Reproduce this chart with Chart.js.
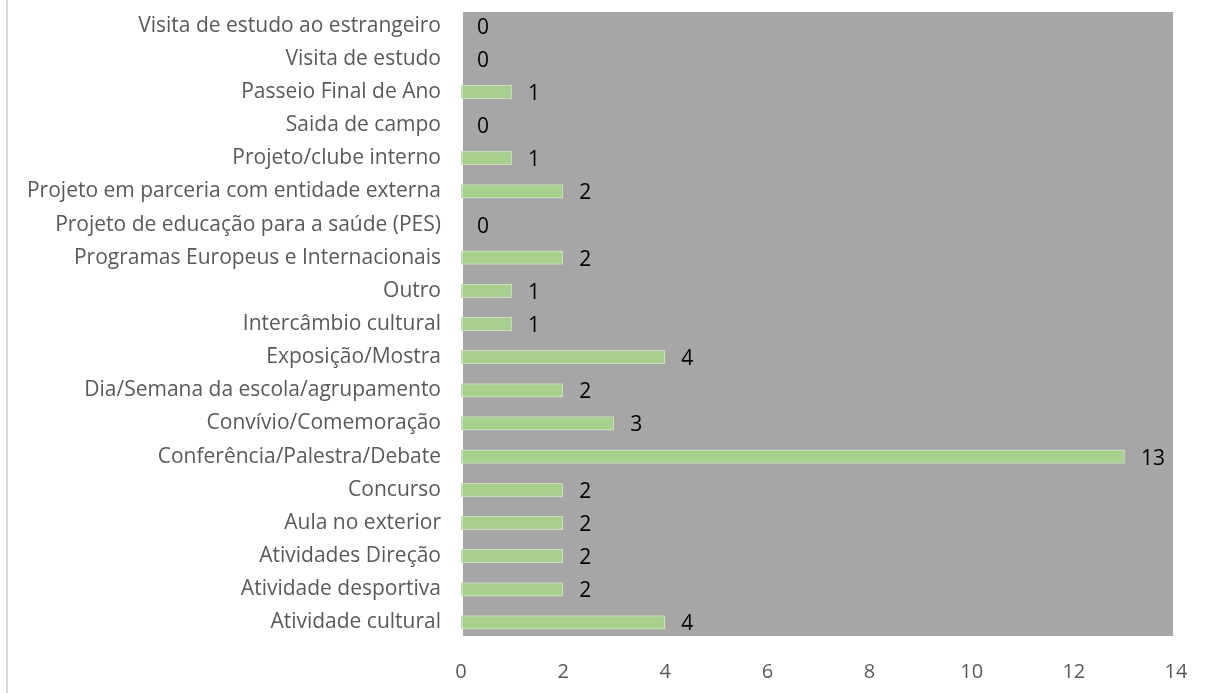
<!DOCTYPE html>
<html>
<head>
<meta charset="utf-8">
<script src="https://cdn.jsdelivr.net/npm/chart.js@4"></script>
<style>
  html, body { margin: 0; padding: 0; background: #fff; }
  #wrap { width: 1206px; height: 693px; position: relative; }
</style>
</head>
<body>
<div id="wrap"><canvas id="chart"></canvas></div>
<script>
const categories = [
  "Visita de estudo ao estrangeiro",
  "Visita de estudo",
  "Passeio Final de Ano",
  "Saida de campo",
  "Projeto/clube interno",
  "Projeto em parceria com entidade externa",
  "Projeto de educação para a saúde (PES)",
  "Programas Europeus e Internacionais",
  "Outro",
  "Intercâmbio cultural",
  "Exposição/Mostra",
  "Dia/Semana da escola/agrupamento",
  "Convívio/Comemoração",
  "Conferência/Palestra/Debate",
  "Concurso",
  "Aula no exterior",
  "Atividades Direção",
  "Atividade desportiva",
  "Atividade cultural",
];

const counts = [0, 0, 1, 0, 1, 2, 0, 2, 1, 1, 4, 2, 3, 13, 2, 2, 2, 2, 4];

const xTicks = [0, 2, 4, 6, 8, 10, 12, 14];

const FONT = "'Open Sans', sans-serif";

// gray plot area + the thin frame line on the left
const backdrop = {
  id: "backdrop",
  beforeDraw(chart) {
    const { ctx, chartArea } = chart;
    ctx.save();
    ctx.fillStyle = "#a6a6a6";
    ctx.fillRect(chartArea.left + 2, chartArea.top + 3, chartArea.right - chartArea.left - 5, chartArea.bottom - chartArea.top - 6);
    ctx.fillStyle = "#d9d9d9";
    ctx.fillRect(6, 0, 2, chart.height);
    ctx.restore();
  },
};

// value labels at the end of each bar
const valueLabels = {
  id: "valueLabels",
  afterDatasetsDraw(chart) {
    const { ctx } = chart;
    const meta = chart.getDatasetMeta(0);
    ctx.save();
    ctx.font = `21px ${FONT}`;
    ctx.fillStyle = "#000";
    ctx.textAlign = "left";
    ctx.textBaseline = "middle";
    meta.data.forEach((bar, i) => {
      ctx.fillText(String(counts[i]), bar.x + 16, bar.y + 2);
    });
    ctx.restore();
  },
};

new Chart(document.getElementById("chart"), {
  type: "bar",
  data: {
    labels: categories,
    datasets: [
      {
        data: counts,
        backgroundColor: "#a9d18e",
        borderColor: "#c5e0b4",
        borderWidth: 1.5,
        borderSkipped: false,
        categoryPercentage: 1,
        barPercentage: 0.43,
      },
    ],
  },
  options: {
    indexAxis: "y",
    responsive: true,
    maintainAspectRatio: false,
    animation: false,
    layout: { padding: { top: 9, right: 30, bottom: 0, left: 0 } },
    plugins: {
      legend: { display: false },
      tooltip: { enabled: false },
    },
    scales: {
      x: {
        min: 0,
        max: 14,
        afterBuildTicks: (scale) => {
          scale.ticks = xTicks.map((v) => ({ value: v }));
        },
        afterFit: (scale) => {
          scale.height = 54;
          scale.paddingLeft = 0;
          scale.paddingRight = 0;
        },
        grid: { display: false, drawTicks: false },
        border: { display: false },
        ticks: {
          color: "#595959",
          font: { family: FONT, size: 20 },
          padding: 21,
        },
      },
      y: {
        afterFit: (scale) => {
          scale.width = 461;
          scale.paddingTop = 0;
          scale.paddingBottom = 0;
        },
        grid: { display: false, drawTicks: false },
        border: { display: false },
        ticks: {
          color: "#595959",
          font: { family: FONT, size: 21 },
          padding: 20,
          autoSkip: false,
        },
      },
    },
  },
  plugins: [backdrop, valueLabels],
});
</script>
</body>
</html>
